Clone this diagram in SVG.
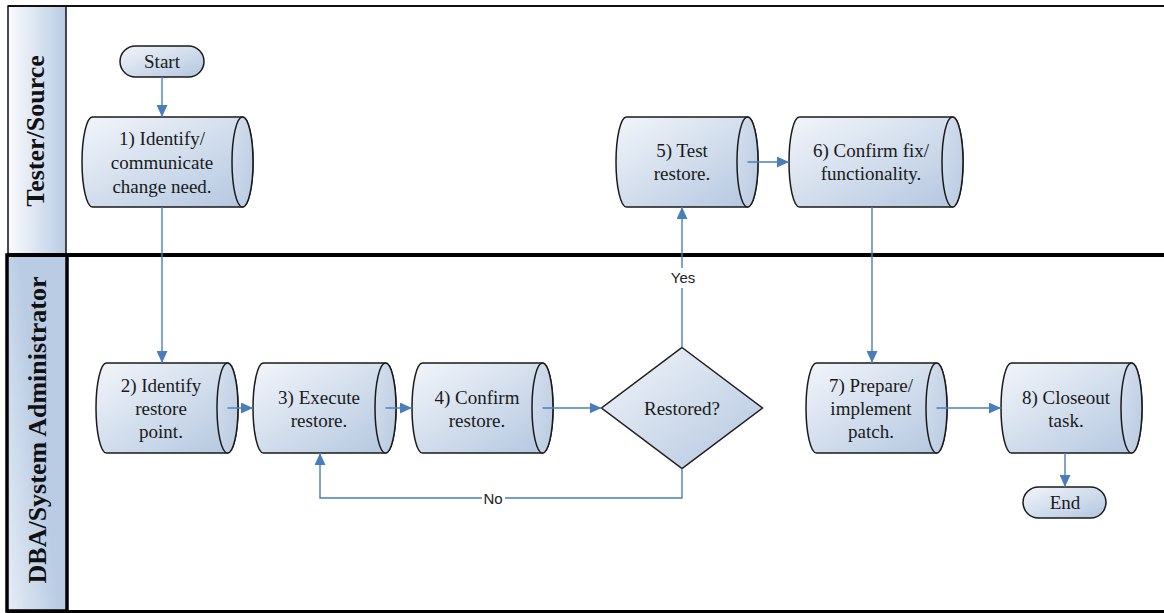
<svg xmlns="http://www.w3.org/2000/svg" width="1164" height="613" viewBox="0 0 1164 613">
  <defs>
    <linearGradient id="gNode" x1="0" y1="0" x2="1" y2="1">
      <stop offset="0" stop-color="#f2f5fa"/>
      <stop offset="1" stop-color="#b2c6df"/>
    </linearGradient>
    <linearGradient id="gCap" x1="0" y1="0" x2="1" y2="1">
      <stop offset="0" stop-color="#d6e0ee"/>
      <stop offset="1" stop-color="#b8cae1"/>
    </linearGradient>
    <linearGradient id="gLaneTop" x1="0" y1="0" x2="1" y2="0">
      <stop offset="0" stop-color="#fbfcfe"/>
      <stop offset="1" stop-color="#b9cce4"/>
    </linearGradient>
    <linearGradient id="gLaneBot" x1="0" y1="1" x2="0.6" y2="0.6">
      <stop offset="0" stop-color="#e6edf6"/>
      <stop offset="1" stop-color="#b9cce4"/>
    </linearGradient>
    <marker id="arrow" markerUnits="userSpaceOnUse" markerWidth="12" markerHeight="11" refX="12" refY="5.5" orient="auto">
      <path d="M0,0 L12,5.5 L0,11 Z" fill="#4a7ebb"/>
    </marker>
  </defs>
  <style>
    .body { fill: url(#gNode); stroke: #1a1a1a; stroke-width: 1.5; }
    .cap { fill: url(#gCap); stroke: #1a1a1a; stroke-width: 1.5; }
    .txt { font-family: "Liberation Serif", "Times New Roman", serif; font-size: 19px; fill: #1a1a1a; text-anchor: middle; }
    .lane { font-family: "Liberation Serif", "Times New Roman", serif; font-size: 26px; font-weight: bold; fill: #111; text-anchor: middle; }
    .conn { fill: none; stroke: #4a7ebb; stroke-width: 1.4; }
    .lbl { font-family: "Liberation Sans", Arial, sans-serif; font-size: 15px; fill: #222; text-anchor: middle; }
  </style>

  <rect width="1164" height="613" fill="#ffffff"/>

  <!-- Swimlanes -->
  <g id="lane-tester">
    <rect x="8" y="6" width="58" height="249" fill="url(#gLaneTop)" stroke="#111" stroke-width="1.5"/>
    <path d="M8,6 H1164" stroke="#111" stroke-width="2"/>
    <text class="lane" transform="translate(44,131) rotate(-90)">Tester/Source</text>
  </g>
  <g id="lane-dba">
    <rect x="7" y="255" width="60" height="356" fill="url(#gLaneBot)" stroke="#000" stroke-width="3.5"/>
    <path d="M7,255 H1164" stroke="#000" stroke-width="4"/>
    <path d="M7,611.5 H1164" stroke="#000" stroke-width="3"/>
    <text class="lane" transform="translate(46,430) rotate(-90)">DBA/System Administrator</text>
  </g>

  <!-- Terminators -->
  <g id="start">
    <rect class="body" x="120" y="46" width="84" height="31" rx="15.5"/>
    <text class="txt" x="162" y="68">Start</text>
  </g>
  <g id="end">
    <rect class="body" x="1023" y="487" width="83" height="31" rx="15.5"/>
    <text class="txt" x="1065" y="509">End</text>
  </g>

  <!-- Process steps (horizontal cylinders) -->
  <g id="step1">
    <path class="body" d="M92.5,117 H242.5 A10.5,45 0 0 1 242.5,207 H92.5 A10.5,45 0 0 1 92.5,117 Z"/>
    <ellipse class="cap" cx="242.5" cy="162" rx="10.5" ry="45"/>
    <text class="txt" x="162" y="145">1) Identify/</text>
    <text class="txt" x="162" y="169">communicate</text>
    <text class="txt" x="162" y="193">change need.</text>
  </g>
  <g id="step2">
    <path class="body" d="M106.5,363 H227.5 A10.5,45 0 0 1 227.5,453 H106.5 A10.5,45 0 0 1 106.5,363 Z"/>
    <ellipse class="cap" cx="227.5" cy="408" rx="10.5" ry="45"/>
    <text class="txt" x="161" y="392">2) Identify</text>
    <text class="txt" x="161" y="415">restore</text>
    <text class="txt" x="161" y="438">point.</text>
  </g>
  <g id="step3">
    <path class="body" d="M263.5,363 H385.5 A10.5,45 0 0 1 385.5,453 H263.5 A10.5,45 0 0 1 263.5,363 Z"/>
    <ellipse class="cap" cx="385.5" cy="408" rx="10.5" ry="45"/>
    <text class="txt" x="319" y="404">3) Execute</text>
    <text class="txt" x="319" y="427">restore.</text>
  </g>
  <g id="step4">
    <path class="body" d="M422.5,363 H542.5 A10.5,45 0 0 1 542.5,453 H422.5 A10.5,45 0 0 1 422.5,363 Z"/>
    <ellipse class="cap" cx="542.5" cy="408" rx="10.5" ry="45"/>
    <text class="txt" x="477" y="404">4) Confirm</text>
    <text class="txt" x="477" y="427">restore.</text>
  </g>
  <g id="step5">
    <path class="body" d="M626.5,117 H747.5 A10.5,45 0 0 1 747.5,207 H626.5 A10.5,45 0 0 1 626.5,117 Z"/>
    <ellipse class="cap" cx="747.5" cy="162" rx="10.5" ry="45"/>
    <text class="txt" x="682" y="157">5) Test</text>
    <text class="txt" x="682" y="180">restore.</text>
  </g>
  <g id="step6">
    <path class="body" d="M799.5,117 H952.5 A10.5,45 0 0 1 952.5,207 H799.5 A10.5,45 0 0 1 799.5,117 Z"/>
    <ellipse class="cap" cx="952.5" cy="162" rx="10.5" ry="45"/>
    <text class="txt" x="871" y="157">6) Confirm fix/</text>
    <text class="txt" x="871" y="180">functionality.</text>
  </g>
  <g id="step7">
    <path class="body" d="M816.5,363 H936.5 A10.5,45 0 0 1 936.5,453 H816.5 A10.5,45 0 0 1 816.5,363 Z"/>
    <ellipse class="cap" cx="936.5" cy="408" rx="10.5" ry="45"/>
    <text class="txt" x="871" y="392">7) Prepare/</text>
    <text class="txt" x="871" y="415">implement</text>
    <text class="txt" x="871" y="438">patch.</text>
  </g>
  <g id="step8">
    <path class="body" d="M1011.5,363 H1131.5 A10.5,45 0 0 1 1131.5,453 H1011.5 A10.5,45 0 0 1 1011.5,363 Z"/>
    <ellipse class="cap" cx="1131.5" cy="408" rx="10.5" ry="45"/>
    <text class="txt" x="1066" y="404">8) Closeout</text>
    <text class="txt" x="1066" y="427">task.</text>
  </g>

  <!-- Decision -->
  <g id="decision">
    <path class="body" d="M682,347.5 L762.5,408 L682,468.5 L601.5,408 Z"/>
    <text class="txt" x="682" y="415">Restored?</text>
  </g>

  <!-- Connectors -->
  <g id="connectors">
    <path class="conn" d="M162,77 V117" marker-end="url(#arrow)"/>
    <path class="conn" d="M162,207 V363" marker-end="url(#arrow)"/>
    <path class="conn" d="M227.5,408 H253" marker-end="url(#arrow)"/>
    <path class="conn" d="M385.5,408 H412" marker-end="url(#arrow)"/>
    <path class="conn" d="M542.5,408 H601.5" marker-end="url(#arrow)"/>
    <path class="conn" d="M682,347.5 V207" marker-end="url(#arrow)"/>
    <path class="conn" d="M682,468.5 V498 H320 V453" marker-end="url(#arrow)"/>
    <path class="conn" d="M747.5,162 H789" marker-end="url(#arrow)"/>
    <path class="conn" d="M872,207 V363" marker-end="url(#arrow)"/>
    <path class="conn" d="M936.5,408 H1001" marker-end="url(#arrow)"/>
    <path class="conn" d="M1065,453 V487" marker-end="url(#arrow)"/>
    <rect x="668" y="268" width="28" height="20" fill="#ffffff"/>
    <text class="lbl" x="683" y="283">Yes</text>
    <rect x="482" y="489" width="23" height="18" fill="#ffffff"/>
    <text class="lbl" x="493" y="504">No</text>
  </g>
</svg>
